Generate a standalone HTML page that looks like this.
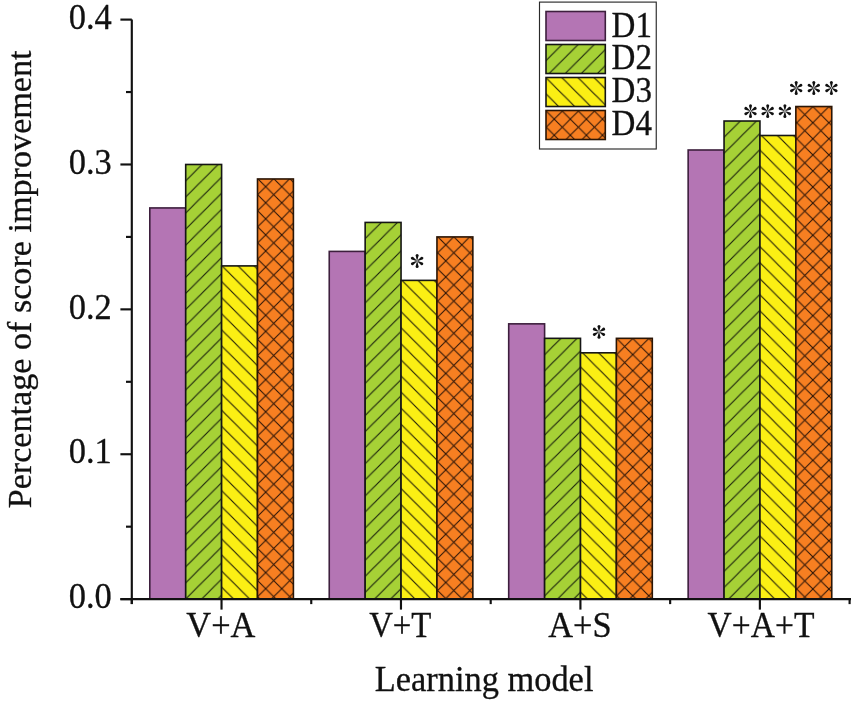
<!DOCTYPE html><html><head><meta charset="utf-8"><style>html,body{margin:0;padding:0;background:#fff;width:851px;height:701px;overflow:hidden}svg{display:block;will-change:transform}text{font-family:"Liberation Serif",serif;fill:#111;stroke:#111;stroke-width:0.3px}</style></head><body>
<svg width="851" height="701" viewBox="0 0 851 701">
<defs>
<pattern id="h1" patternUnits="userSpaceOnUse" width="16.08" height="16.08" patternTransform="translate(6.400,6.400)"><rect x="-1" y="-1" width="18.08" height="18.08" fill="#a6d136"/><path d="M-4 20.08 L20.08 -4 M-4 4 L4 -4 M12.079999999999998 20.08 L20.08 12.079999999999998" stroke="#1a220c" stroke-width="1.15"/></pattern>
<pattern id="h2" patternUnits="userSpaceOnUse" width="16.08" height="16.08" patternTransform="translate(2.200,-2.200)"><rect x="-1" y="-1" width="18.08" height="18.08" fill="#fbef14"/><path d="M-4 -4 L20.08 20.08 M-4 12.079999999999998 L4 20.08 M12.079999999999998 -4 L20.08 4" stroke="#221f08" stroke-width="1.15"/></pattern>
<pattern id="h3" patternUnits="userSpaceOnUse" width="16.08" height="16.08" patternTransform="translate(8.400,-6.300)"><rect x="-1" y="-1" width="18.08" height="18.08" fill="#f77f21"/><path d="M-4 20.08 L20.08 -4 M-4 4 L4 -4 M12.079999999999998 20.08 L20.08 12.079999999999998" stroke="#2a1306" stroke-width="1.05"/><path d="M-4 -4 L20.08 20.08 M-4 12.079999999999998 L4 20.08 M12.079999999999998 -4 L20.08 4" stroke="#2a1306" stroke-width="1.05"/></pattern>
<pattern id="h4" patternUnits="userSpaceOnUse" width="16.08" height="16.08" patternTransform="translate(4.400,4.400)"><rect x="-1" y="-1" width="18.08" height="18.08" fill="#a6d136"/><path d="M-4 20.08 L20.08 -4 M-4 4 L4 -4 M12.079999999999998 20.08 L20.08 12.079999999999998" stroke="#1a220c" stroke-width="1.15"/></pattern>
<pattern id="h5" patternUnits="userSpaceOnUse" width="16.08" height="16.08" patternTransform="translate(4.500,-4.500)"><rect x="-1" y="-1" width="18.08" height="18.08" fill="#fbef14"/><path d="M-4 -4 L20.08 20.08 M-4 12.079999999999998 L4 20.08 M12.079999999999998 -4 L20.08 4" stroke="#221f08" stroke-width="1.15"/></pattern>
<pattern id="h6" patternUnits="userSpaceOnUse" width="16.08" height="16.08" patternTransform="translate(11.600,3.600)"><rect x="-1" y="-1" width="18.08" height="18.08" fill="#f77f21"/><path d="M-4 20.08 L20.08 -4 M-4 4 L4 -4 M12.079999999999998 20.08 L20.08 12.079999999999998" stroke="#2a1306" stroke-width="1.05"/><path d="M-4 -4 L20.08 20.08 M-4 12.079999999999998 L4 20.08 M12.079999999999998 -4 L20.08 4" stroke="#2a1306" stroke-width="1.05"/></pattern>
<pattern id="h7" patternUnits="userSpaceOnUse" width="16.08" height="16.08" patternTransform="translate(7.450,7.450)"><rect x="-1" y="-1" width="18.08" height="18.08" fill="#a6d136"/><path d="M-4 20.08 L20.08 -4 M-4 4 L4 -4 M12.079999999999998 20.08 L20.08 12.079999999999998" stroke="#1a220c" stroke-width="1.15"/></pattern>
<pattern id="h8" patternUnits="userSpaceOnUse" width="16.08" height="16.08" patternTransform="translate(2.275,-2.275)"><rect x="-1" y="-1" width="18.08" height="18.08" fill="#fbef14"/><path d="M-4 -4 L20.08 20.08 M-4 12.079999999999998 L4 20.08 M12.079999999999998 -4 L20.08 4" stroke="#221f08" stroke-width="1.15"/></pattern>
<pattern id="h9" patternUnits="userSpaceOnUse" width="16.08" height="16.08" patternTransform="translate(5.645,0.805)"><rect x="-1" y="-1" width="18.08" height="18.08" fill="#f77f21"/><path d="M-4 20.08 L20.08 -4 M-4 4 L4 -4 M12.079999999999998 20.08 L20.08 12.079999999999998" stroke="#2a1306" stroke-width="1.05"/><path d="M-4 -4 L20.08 20.08 M-4 12.079999999999998 L4 20.08 M12.079999999999998 -4 L20.08 4" stroke="#2a1306" stroke-width="1.05"/></pattern>
<pattern id="h10" patternUnits="userSpaceOnUse" width="16.08" height="16.08" patternTransform="translate(4.550,4.550)"><rect x="-1" y="-1" width="18.08" height="18.08" fill="#a6d136"/><path d="M-4 20.08 L20.08 -4 M-4 4 L4 -4 M12.079999999999998 20.08 L20.08 12.079999999999998" stroke="#1a220c" stroke-width="1.15"/></pattern>
<pattern id="h11" patternUnits="userSpaceOnUse" width="16.08" height="16.08" patternTransform="translate(7.450,-7.450)"><rect x="-1" y="-1" width="18.08" height="18.08" fill="#fbef14"/><path d="M-4 -4 L20.08 20.08 M-4 12.079999999999998 L4 20.08 M12.079999999999998 -4 L20.08 4" stroke="#221f08" stroke-width="1.15"/></pattern>
<pattern id="h12" patternUnits="userSpaceOnUse" width="16.08" height="16.08" patternTransform="translate(8.850,-5.950)"><rect x="-1" y="-1" width="18.08" height="18.08" fill="#f77f21"/><path d="M-4 20.08 L20.08 -4 M-4 4 L4 -4 M12.079999999999998 20.08 L20.08 12.079999999999998" stroke="#2a1306" stroke-width="1.05"/><path d="M-4 -4 L20.08 20.08 M-4 12.079999999999998 L4 20.08 M12.079999999999998 -4 L20.08 4" stroke="#2a1306" stroke-width="1.05"/></pattern>
<pattern id="h13" patternUnits="userSpaceOnUse" width="16.08" height="16.08" patternTransform="translate(5.830,5.830)"><rect x="-1" y="-1" width="18.08" height="18.08" fill="#a6d136"/><path d="M-4 20.08 L20.08 -4 M-4 4 L4 -4 M12.079999999999998 20.08 L20.08 12.079999999999998" stroke="#1a220c" stroke-width="1.15"/></pattern>
<pattern id="h14" patternUnits="userSpaceOnUse" width="16.08" height="16.08" patternTransform="translate(0.950,-0.950)"><rect x="-1" y="-1" width="18.08" height="18.08" fill="#fbef14"/><path d="M-4 -4 L20.08 20.08 M-4 12.079999999999998 L4 20.08 M12.079999999999998 -4 L20.08 4" stroke="#221f08" stroke-width="1.15"/></pattern>
<pattern id="h15" patternUnits="userSpaceOnUse" width="16.08" height="16.08" patternTransform="translate(7.525,6.575)"><rect x="-1" y="-1" width="18.08" height="18.08" fill="#f77f21"/><path d="M-4 20.08 L20.08 -4 M-4 4 L4 -4 M12.079999999999998 20.08 L20.08 12.079999999999998" stroke="#2a1306" stroke-width="1.05"/><path d="M-4 -4 L20.08 20.08 M-4 12.079999999999998 L4 20.08 M12.079999999999998 -4 L20.08 4" stroke="#2a1306" stroke-width="1.05"/></pattern>
<g id="st" fill="#111">
<path transform="rotate(0)" d="M-0.22 -0.5 L-1.5 -5.4 A1.5 1.5 0 0 1 1.5 -5.4 L0.22 -0.5 Z"/>
<path transform="rotate(60)" d="M-0.22 -0.5 L-1.5 -5.4 A1.5 1.5 0 0 1 1.5 -5.4 L0.22 -0.5 Z"/>
<path transform="rotate(120)" d="M-0.22 -0.5 L-1.5 -5.4 A1.5 1.5 0 0 1 1.5 -5.4 L0.22 -0.5 Z"/>
<path transform="rotate(180)" d="M-0.22 -0.5 L-1.5 -5.4 A1.5 1.5 0 0 1 1.5 -5.4 L0.22 -0.5 Z"/>
<path transform="rotate(240)" d="M-0.22 -0.5 L-1.5 -5.4 A1.5 1.5 0 0 1 1.5 -5.4 L0.22 -0.5 Z"/>
<path transform="rotate(300)" d="M-0.22 -0.5 L-1.5 -5.4 A1.5 1.5 0 0 1 1.5 -5.4 L0.22 -0.5 Z"/>
</g>
</defs>
<rect x="149.80" y="207.94" width="35.90" height="391.18" fill="#b475b4" stroke="#3d1f3d" stroke-width="1.60"/>
<rect x="185.70" y="164.48" width="35.90" height="434.64" fill="url(#h1)" stroke="#151515" stroke-width="1.60"/>
<rect x="221.60" y="265.90" width="35.90" height="333.22" fill="url(#h2)" stroke="#151515" stroke-width="1.60"/>
<rect x="257.50" y="178.97" width="35.90" height="420.15" fill="url(#h3)" stroke="#2a1505" stroke-width="1.60"/>
<rect x="329.25" y="251.41" width="35.90" height="347.71" fill="#b475b4" stroke="#3d1f3d" stroke-width="1.60"/>
<rect x="365.15" y="222.43" width="35.90" height="376.69" fill="url(#h4)" stroke="#151515" stroke-width="1.60"/>
<rect x="401.05" y="280.38" width="35.90" height="318.74" fill="url(#h5)" stroke="#151515" stroke-width="1.60"/>
<rect x="436.95" y="236.92" width="35.90" height="362.20" fill="url(#h6)" stroke="#2a1505" stroke-width="1.60"/>
<rect x="508.70" y="323.85" width="35.90" height="275.27" fill="#b475b4" stroke="#3d1f3d" stroke-width="1.60"/>
<rect x="544.60" y="338.34" width="35.90" height="260.78" fill="url(#h7)" stroke="#151515" stroke-width="1.60"/>
<rect x="580.50" y="352.82" width="35.90" height="246.30" fill="url(#h8)" stroke="#151515" stroke-width="1.60"/>
<rect x="616.40" y="338.34" width="35.90" height="260.78" fill="url(#h9)" stroke="#2a1505" stroke-width="1.60"/>
<rect x="688.15" y="149.99" width="35.90" height="449.13" fill="#b475b4" stroke="#3d1f3d" stroke-width="1.60"/>
<rect x="724.05" y="121.02" width="35.90" height="478.10" fill="url(#h10)" stroke="#151515" stroke-width="1.60"/>
<rect x="759.95" y="135.50" width="35.90" height="463.62" fill="url(#h11)" stroke="#151515" stroke-width="1.60"/>
<rect x="795.85" y="106.53" width="35.90" height="492.59" fill="url(#h12)" stroke="#2a1505" stroke-width="1.60"/>
<g stroke="#111" stroke-width="2.15" fill="none">
<line x1="131.80" y1="19.60" x2="131.80" y2="604.12"/>
<line x1="120.40" y1="599.12" x2="851" y2="599.12"/>
<line x1="120.40" y1="599.12" x2="131.80" y2="599.12"/>
<line x1="120.40" y1="454.24" x2="131.80" y2="454.24"/>
<line x1="120.40" y1="309.36" x2="131.80" y2="309.36"/>
<line x1="120.40" y1="164.48" x2="131.80" y2="164.48"/>
<line x1="120.40" y1="19.60" x2="131.80" y2="19.60"/>
<line x1="126.00" y1="526.68" x2="131.80" y2="526.68"/>
<line x1="126.00" y1="381.80" x2="131.80" y2="381.80"/>
<line x1="126.00" y1="236.92" x2="131.80" y2="236.92"/>
<line x1="126.00" y1="92.04" x2="131.80" y2="92.04"/>
<line x1="131.80" y1="599.12" x2="131.80" y2="604.12"/>
<line x1="311.25" y1="599.12" x2="311.25" y2="604.12"/>
<line x1="490.70" y1="599.12" x2="490.70" y2="604.12"/>
<line x1="670.15" y1="599.12" x2="670.15" y2="604.12"/>
<line x1="849.60" y1="599.12" x2="849.60" y2="604.12"/>
<line x1="221.53" y1="599.12" x2="221.53" y2="609.62"/>
<line x1="400.97" y1="599.12" x2="400.97" y2="609.62"/>
<line x1="580.42" y1="599.12" x2="580.42" y2="609.62"/>
<line x1="759.88" y1="599.12" x2="759.88" y2="609.62"/>
</g>
<text transform="translate(111.80,608.32) scale(1.000,1.060)" font-size="34.40" text-anchor="end">0.0</text>
<text transform="translate(111.80,463.44) scale(1.000,1.060)" font-size="34.40" text-anchor="end">0.1</text>
<text transform="translate(111.80,318.56) scale(1.000,1.060)" font-size="34.40" text-anchor="end">0.2</text>
<text transform="translate(111.80,173.68) scale(1.000,1.060)" font-size="34.40" text-anchor="end">0.3</text>
<text transform="translate(111.80,28.80) scale(1.000,1.060)" font-size="34.40" text-anchor="end">0.4</text>
<text transform="translate(220.90,636.50) scale(1.000,1.060)" font-size="34.40" text-anchor="middle">V+A</text>
<text transform="translate(400.30,636.50) scale(0.954,1.060)" font-size="34.40" text-anchor="middle">V+T</text>
<text transform="translate(579.85,636.50) scale(1.000,1.060)" font-size="34.40" text-anchor="middle">A+S</text>
<text transform="translate(761.00,636.50) scale(0.976,1.060)" font-size="34.40" text-anchor="middle">V+A+T</text>
<text transform="translate(484.10,690.60) scale(1.000,1.060)" font-size="34.40" text-anchor="middle">Learning model</text>
<text transform="translate(31.00,279.40) rotate(-90) scale(0.993,1.000)" font-size="34.40" text-anchor="middle">Percentage of score improvement</text>
<use href="#st" transform="translate(417.10,261.00)"/>
<use href="#st" transform="translate(599.00,331.85)"/>
<use href="#st" transform="translate(750.50,111.10)"/>
<use href="#st" transform="translate(767.70,111.10)"/>
<use href="#st" transform="translate(784.90,111.10)"/>
<use href="#st" transform="translate(796.20,88.00)"/>
<use href="#st" transform="translate(813.80,88.00)"/>
<use href="#st" transform="translate(831.40,88.00)"/>
<rect x="539.5" y="2.1" width="116.75" height="146.9" fill="#fff" stroke="#2a2a2a" stroke-width="1.15"/>
<rect x="546" y="11.50" width="59.3" height="29" fill="#b475b4" stroke="#3d1f3d" stroke-width="1.60"/>
<text transform="translate(611.60,36.60) scale(0.960,1.060)" font-size="34.40" text-anchor="start">D1</text>
<rect x="546" y="44.50" width="59.3" height="29" fill="url(#h13)" stroke="#151515" stroke-width="1.60"/>
<text transform="translate(611.60,69.43) scale(0.960,1.060)" font-size="34.40" text-anchor="start">D2</text>
<rect x="546" y="77.50" width="59.3" height="29" fill="url(#h14)" stroke="#151515" stroke-width="1.60"/>
<text transform="translate(611.60,102.26) scale(0.960,1.060)" font-size="34.40" text-anchor="start">D3</text>
<rect x="546" y="110.50" width="59.3" height="29" fill="url(#h15)" stroke="#2a1505" stroke-width="1.60"/>
<text transform="translate(611.60,135.09) scale(0.960,1.060)" font-size="34.40" text-anchor="start">D4</text>
</svg></body></html>
